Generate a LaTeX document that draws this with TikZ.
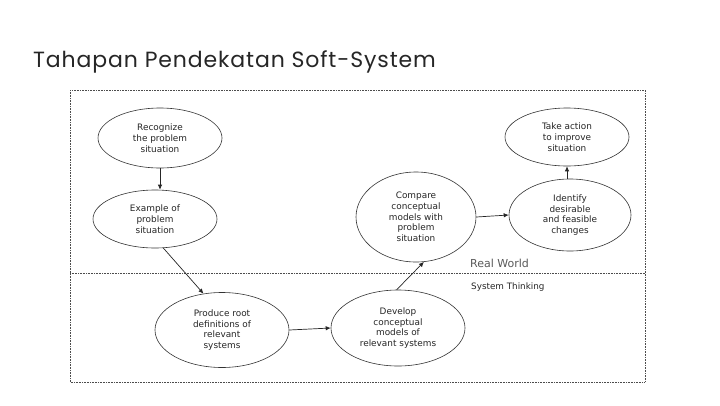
\documentclass[tikz,border=0pt]{standalone}
\usepackage{fontspec}
\setmainfont{DejaVu Sans}
\newfontfamily\titlefont[LetterSpace=4]{Poppins}
\usetikzlibrary{shapes.geometric,arrows.meta}
\begin{document}
\begin{tikzpicture}[x=1pt,y=-1pt,
  stage/.style={draw=black!80, line width=0.6pt, ellipse, inner sep=0pt, align=center,
    font=\fontsize{8.9}{10.7}\selectfont, text=black!85},
  flow/.style={draw=black!85, line width=0.7pt, -{Latex[length=5pt,width=4.5pt]}},
  frame/.style={draw=black!70, line width=0.6pt, dash pattern=on 0.8pt off 0.8pt},
  zone/.style={anchor=west, inner sep=0pt}]
\useasboundingbox (0,0) rectangle (720,405);
\fill[white] (0,0) rectangle (720,405);
\node[anchor=base west, inner sep=0pt, font=\titlefont\fontsize{22}{24}\selectfont, text=black!85] (title) at (33,67) {Tahapan Pendekatan Soft-System};
% frame
\coordinate (tl) at (70,90);
\coordinate (br) at (645,382);
\coordinate (ml) at (70,273);
\coordinate (mr) at (645,273);
\draw[frame] (tl) rectangle (br);
\draw[frame] (ml) -- (mr);
\node[zone, font=\fontsize{11}{13}\selectfont, text=black!65] (rw) at (470,263) {Real World};
\node[zone, font=\fontsize{8.8}{11}\selectfont, text=black!85] (st) at (471,287) {System Thinking};
% stages
\node[stage, minimum width=124pt, minimum height=60pt] (rc) at (160,138) {Recognize\\the problem\\situation};
\node[stage, minimum width=124pt, minimum height=58pt] (ex) at (155,219) {Example of\\problem\\situation};
\node[stage, minimum width=134pt, minimum height=75pt] (pr) at (222,330) {Produce root\\definitions of\\relevant\\systems};
\node[stage, minimum width=134pt, minimum height=76pt] (dv) at (398,328) {Develop\\conceptual\\models of\\relevant systems};
\node[stage, minimum width=120pt, minimum height=90pt] (cp) at (416,217) {Compare\\conceptual\\models with\\problem\\situation};
\node[stage, minimum width=122pt, minimum height=72pt] (id) at (570,215) {Identify\\desirable\\and feasible\\changes};
\node[stage, minimum width=124pt, minimum height=58pt] (ta) at (567,137) {Take action\\to improve\\situation};
% flows
\draw[flow] (rc.south) -- (rc.south |- ex.north);
\draw[flow] (ex.-74) -- (pr.117);
\draw[flow] (pr.east) -- (dv.west);
\draw[flow] (dv.92) -- (cp.-80);
\draw[flow] (cp.east) -- (id.west);
\draw[flow] (ta.south |- id.north) -- (ta.south);
\end{tikzpicture}
\end{document}
